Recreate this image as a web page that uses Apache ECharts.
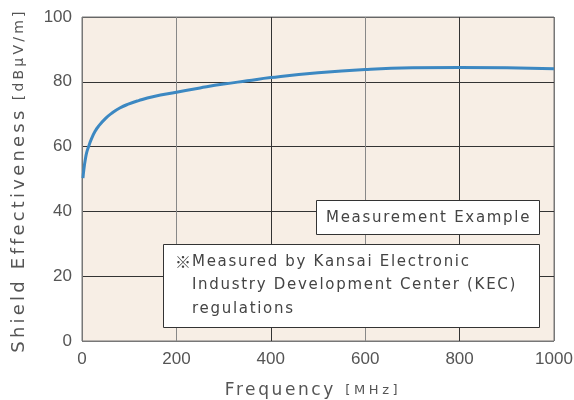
<!DOCTYPE html>
<html><head><meta charset="utf-8">
<script src="https://cdn.jsdelivr.net/npm/echarts@6/dist/echarts.min.js"></script>
<style>html,body{margin:0;padding:0;background:#fff}#c{width:574px;height:400px}</style>
</head><body><div id="c"></div>
<script>
var freq = [2, 4, 7, 10, 14, 20, 28, 35, 50, 63, 80, 98, 120, 150, 200, 250, 300, 350, 400, 500, 600, 700, 800, 900, 1000];
var shield = [50.3, 53, 56, 58.2, 60, 62.4, 64.8, 66.3, 68.7, 70.3, 71.9, 73.1, 74.2, 75.4, 76.8, 78.1, 79.3, 80.3, 81.3, 82.8, 83.8, 84.3, 84.4, 84.3, 84.0];
var xTicks = [0, 200, 400, 600, 800, 1000];
var yTicks = [0, 20, 40, 60, 80, 100];
var noteTitle = 'Measurement Example';
var noteMark = '※';
var noteLines = ['Measured by Kansai Electronic', 'Industry Development Center (KEC)', 'regulations'];

// emulate the wide letter spacing of the original typeface
(function(){
  var P = CanvasRenderingContext2D.prototype;
  var LS = {'18': '3.2px', '14': '3.2px', '17': '2.6px', '13': '3.6px', '15': '1.7px'};
  function setLS(ctx){
    var f = ctx.font || '';
    if (f.indexOf('DejaVu') < 0) { ctx.letterSpacing = '0px'; return; }
    var m = f.match(/(\d+(?:\.\d+)?)px/);
    ctx.letterSpacing = (m && LS[m[1]]) || '0px';
  }
  ['fillText', 'strokeText', 'measureText'].forEach(function(n){
    var o = P[n];
    P[n] = function(){ setLS(this); return o.apply(this, arguments); };
  });
})();

var chart = echarts.init(document.getElementById('c'));
var FONT = 'DejaVu Sans';
var graphics = [
  {type: 'rect', left: 316, top: 200, shape: {width: 223, height: 34}, style: {fill: '#fff', stroke: '#333', lineWidth: 1}, z: 10},
  {type: 'text', x: 326, y: 218, style: {text: noteTitle, font: '15px "DejaVu Sans"', fill: '#444', verticalAlign: 'middle'}, z: 11},
  {type: 'rect', left: 163, top: 244, shape: {width: 376, height: 83}, style: {fill: '#fff', stroke: '#333', lineWidth: 1}, z: 10},
  {type: 'text', x: 175, y: 262, style: {text: noteMark, font: '16px "Noto Sans CJK JP"', fill: '#444', verticalAlign: 'middle'}, z: 11}
];
noteLines.forEach(function(t, i){
  graphics.push({type: 'text', x: 192, y: 262 + i * 23.5, style: {text: t, font: '15px "DejaVu Sans"', fill: '#444', verticalAlign: 'middle'}, z: 11});
});

chart.setOption({
  animation: false,
  grid: {left: 82, right: 20, top: 17, bottom: 59, outerBoundsMode: 'none', containLabel: false,
         show: true, backgroundColor: '#F7EEE5', borderColor: '#777', borderWidth: 1},
  xAxis: {
    type: 'value', min: xTicks[0], max: xTicks[xTicks.length-1], interval: 200,
    axisLine: {show: false}, axisTick: {show: false},
    splitLine: {show: true, lineStyle: {color: ['#777', '#888', '#333', '#888', '#333', '#777'], width: 1}},
    axisLabel: {color: '#555', fontFamily: 'Liberation Sans', fontSize: 17, margin: 10, formatter: function(v){ return String(v); }},
    name: '{a|Frequency} {b|[MHz]}', nameLocation: 'middle', nameGap: 40,
    nameTextStyle: {padding: [0, 10, 0, 0], rich: {a: {fontFamily: FONT, fontSize: 17, color: '#555'}, b: {fontFamily: FONT, fontSize: 13, color: '#555', padding: [0, 0, 0, 6]}}}
  },
  yAxis: {
    type: 'value', min: yTicks[0], max: yTicks[yTicks.length-1], interval: 20,
    axisLine: {show: false}, axisTick: {show: false},
    splitLine: {show: true, lineStyle: {color: ['#777', '#333', '#333', '#333', '#333', '#666'], width: 1}},
    axisLabel: {color: '#555', fontFamily: 'Liberation Sans', fontSize: 17, margin: 10},
    name: '{a|Shield Effectiveness} {b|[dBμV/m]}', nameLocation: 'middle', nameGap: 52, nameRotate: 90,
    nameTextStyle: {padding: [0, 3, 0, 0], rich: {a: {fontFamily: FONT, fontSize: 18, color: '#555'}, b: {fontFamily: FONT, fontSize: 14, color: '#555', padding: [0, 0, 0, 4]}}}
  },
  series: [{
    type: 'line', smooth: 0.5, showSymbol: false,
    data: freq.map(function(f, i){ return [f, shield[i]]; }),
    lineStyle: {color: '#3C88C2', width: 3}
  }],
  graphic: graphics
});
</script></body></html>
